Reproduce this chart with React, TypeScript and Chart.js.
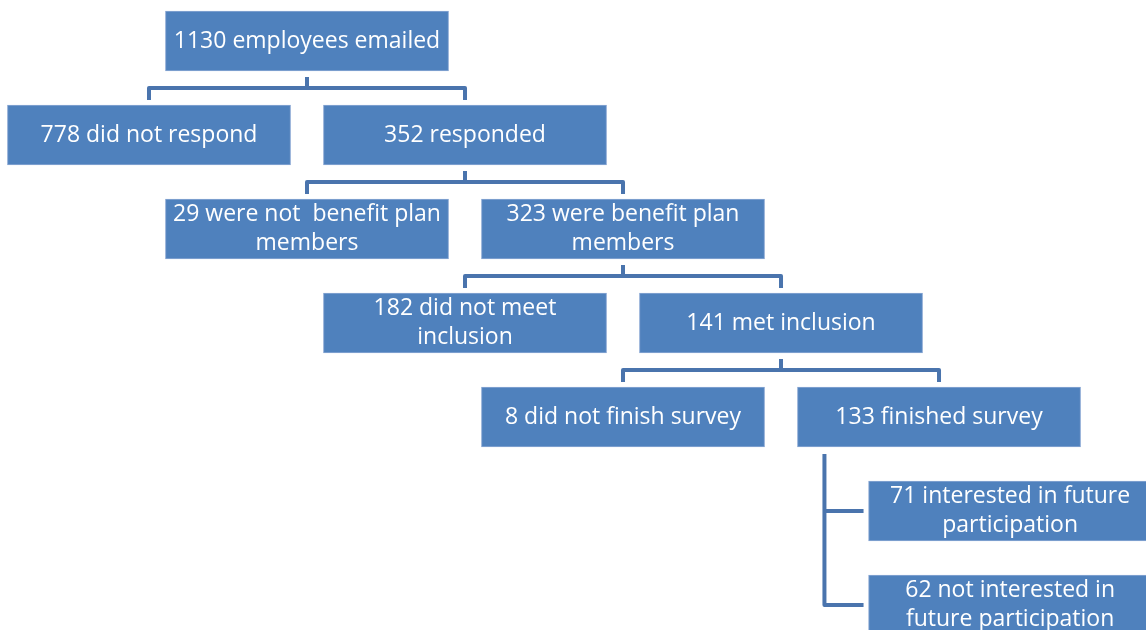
import React, { useEffect, useRef } from "react";
import { Chart, registerables } from "chart.js";

Chart.register(...registerables);

// ---- data ----
const nodeCounts = [1130, 778, 352, 29, 323, 182, 141, 8, 133, 71, 62];
const nodeDescriptions: string[][] = [
  ["employees emailed"],
  ["did not respond"],
  ["responded"],
  ["were not  benefit plan", "members"],
  ["were benefit plan", "members"],
  ["did not meet", "inclusion"],
  ["met inclusion"],
  ["did not finish survey"],
  ["finished survey"],
  ["interested in future", "participation"],
  ["not interested in", "future participation"],
];
const nodeLevels = [0, 1, 1, 2, 2, 3, 3, 4, 4, 5, 6];
const nodeColumns = [1, 0, 2, 1, 3, 2, 4, 3, 5, 5.45, 5.45];
const nodeParents = [-1, 0, 0, 2, 2, 4, 4, 6, 6, 8, 8];

// ---- style ----
const BOX_HALF = 0.896; // half box width in column units
const BOX_COLOR = "#4f81bd";
const LINE_COLOR = "#4a74ad";
const FONT = "23px 'Open Sans', sans-serif";

const connectorPlugin = {
  id: "connectors",
  beforeDatasetsDraw(chart: any) {
    const ctx = chart.ctx;
    const meta = chart.getDatasetMeta(0);
    ctx.save();
    ctx.strokeStyle = LINE_COLOR;
    ctx.lineWidth = 4;
    ctx.lineJoin = "round";
    ctx.lineCap = "butt";
    nodeCounts.forEach((_, p) => {
      const kids = nodeParents
        .map((par, i) => (par === p ? i : -1))
        .filter((i) => i >= 0);
      if (!kids.length) return;
      const pe: any = meta.data[p];
      const pCx = (pe.x + pe.base) / 2;
      const pBottom = pe.y + pe.height / 2;
      const sameCol = kids.every((k) => nodeColumns[k] === nodeColumns[kids[0]]);
      if (!sameCol) {
        const ks = kids.map((k) => meta.data[k] as any);
        const cTop = ks[0].y - ks[0].height / 2;
        const mid = (pBottom + cTop) / 2;
        ctx.beginPath();
        ctx.moveTo(pCx, pBottom + 6);
        ctx.lineTo(pCx, mid);
        ctx.stroke();
        const xs = ks.map((k: any) => (k.x + k.base) / 2);
        ctx.beginPath();
        ctx.moveTo(xs[0], cTop - 5);
        ctx.lineTo(xs[0], mid);
        ctx.lineTo(xs[xs.length - 1], mid);
        ctx.lineTo(xs[xs.length - 1], cTop - 5);
        ctx.stroke();
      } else {
        const vx = Math.min(pe.x, pe.base) + 27;
        const ks = kids.map((k) => meta.data[k] as any);
        const lastY = ks[ks.length - 1].y;
        ctx.beginPath();
        ctx.moveTo(vx, pBottom + 7);
        ctx.lineTo(vx, lastY);
        ctx.lineTo(Math.min(ks[ks.length - 1].x, ks[ks.length - 1].base) - 5, lastY);
        ctx.stroke();
        ks.slice(0, -1).forEach((k: any) => {
          ctx.beginPath();
          ctx.moveTo(vx, k.y);
          ctx.lineTo(Math.min(k.x, k.base) - 5, k.y);
          ctx.stroke();
        });
      }
    });
    ctx.restore();
  },
  afterDatasetsDraw(chart: any) {
    const ctx = chart.ctx;
    const meta = chart.getDatasetMeta(0);
    ctx.save();
    ctx.fillStyle = "#ffffff";
    ctx.font = FONT;
    ctx.textAlign = "center";
    ctx.textBaseline = "middle";
    meta.data.forEach((el: any, i: number) => {
      const desc = nodeDescriptions[i];
      const lines = [`${nodeCounts[i]} ${desc[0]}`, ...desc.slice(1)];
      const cx = (el.x + el.base) / 2;
      const lh = 29;
      const y0 = el.y - ((lines.length - 1) * lh) / 2;
      lines.forEach((ln, j) => ctx.fillText(ln, cx, y0 + j * lh));
    });
    ctx.restore();
  },
};

export default function App() {
  const ref = useRef<HTMLCanvasElement>(null);
  useEffect(() => {
    if (!ref.current) return;
    const data = nodeCounts.map((_, i) => ({
      x: [nodeColumns[i] - BOX_HALF, nodeColumns[i] + BOX_HALF],
      y: nodeLevels[i],
    }));
    const chart = new Chart(ref.current, {
      type: "bar",
      data: {
        datasets: [
          {
            label: "Flow",
            data: data as any,
            backgroundColor: BOX_COLOR,
            borderColor: "#8aa8d4",
            borderWidth: 1,
            borderSkipped: false,
            barThickness: 60,
          },
        ],
      },
      options: {
        indexAxis: "y",
        responsive: false,
        animation: false,
        layout: { padding: 0 },
        plugins: { legend: { display: false }, tooltip: { enabled: false } },
        scales: {
          x: { type: "linear", display: false, offset: false, min: -0.943, max: 6.31 },
          y: { type: "linear", display: false, offset: false, min: -0.436, max: 6.266, reverse: true },
        },
      },
      plugins: [connectorPlugin],
    });
    return () => chart.destroy();
  }, []);
  return (
    <div style={{ position: "fixed", left: 0, top: 0, width: 1146, height: 630, background: "#fff" }}>
      <canvas ref={ref} width={1146} height={630} />
    </div>
  );
}
